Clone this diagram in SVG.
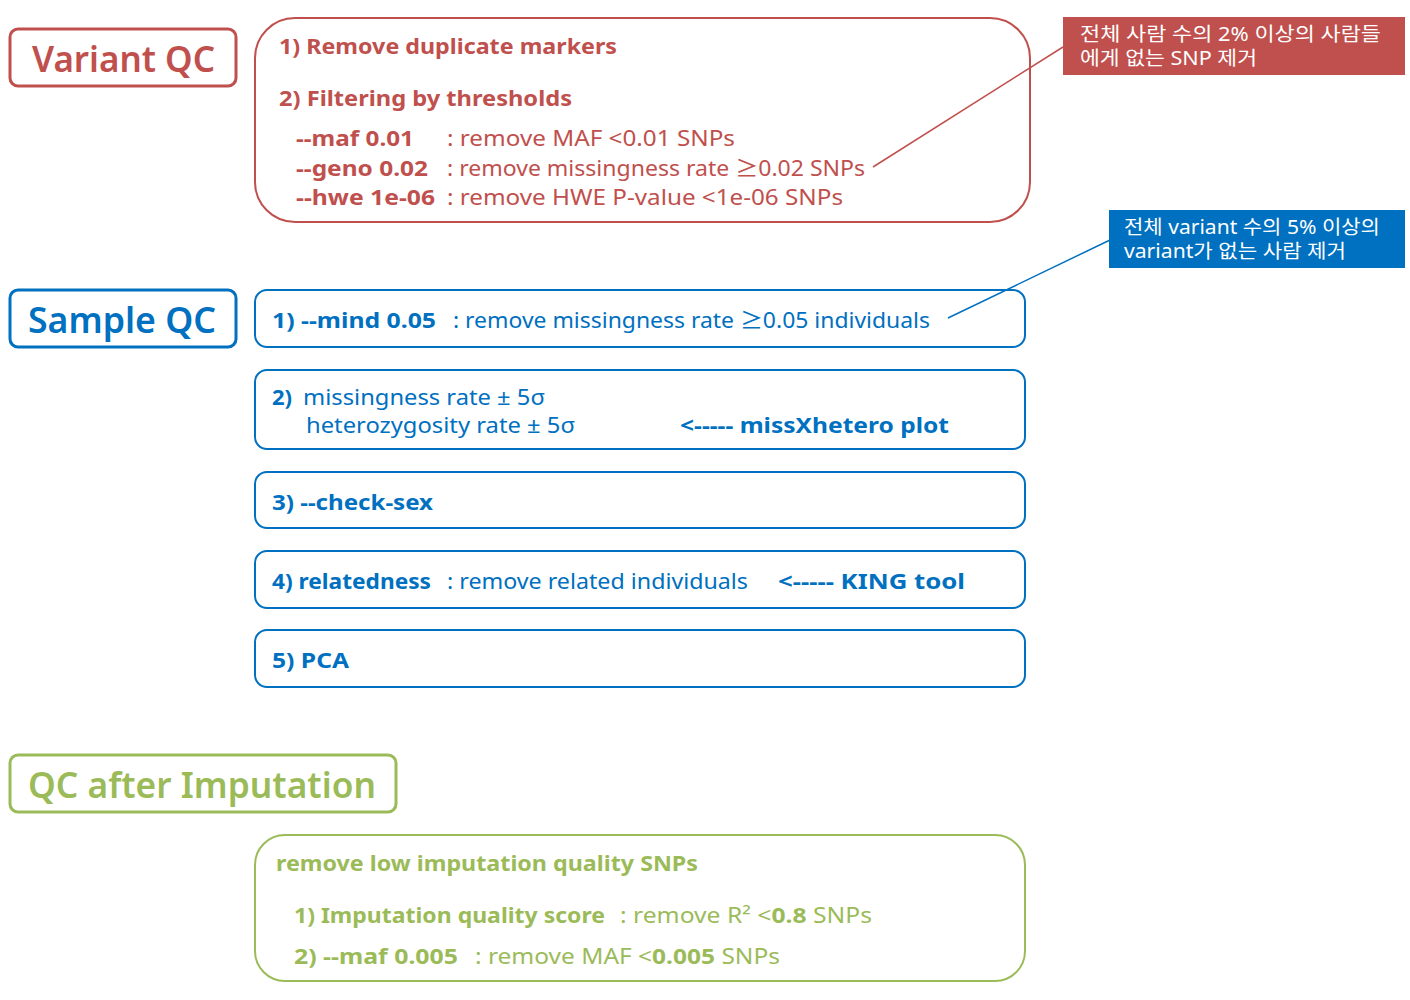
<svg xmlns="http://www.w3.org/2000/svg" width="1410" height="1000" viewBox="0 0 1410 1000">
<style>
text{font-family:"Noto Sans","Noto Sans CJK KR","Liberation Sans",sans-serif;}
.k{font-family:"Noto Sans CJK KR","Noto Sans",sans-serif;}
.red{fill:#C0504D}.blue{fill:#0070C0}.green{fill:#9BBB59}.w{fill:#FFFFFF}
.b{font-weight:700}.n{font-weight:400}
.t{font-size:36px;font-weight:600}
.m{font-size:22px}
.c{font-size:19px}
.rb{fill:none;stroke:#C0504D}.bb{fill:none;stroke:#0070C0}.gb{fill:none;stroke:#9BBB59}
</style>
<rect width="1410" height="1000" fill="#FFFFFF"/>

<g id="variant-qc-title">
<rect class="rb" x="10" y="29" width="226" height="57" rx="8" stroke-width="3"/>
<text class="t red" x="32" y="72" textLength="183" lengthAdjust="spacingAndGlyphs">Variant QC</text>
</g>

<g id="variant-qc-box">
<rect class="rb" x="255" y="18" width="775" height="204" rx="40" stroke-width="2"/>
<text class="m red b" x="279" y="54" textLength="338" lengthAdjust="spacingAndGlyphs">1)  Remove duplicate markers</text>
<text class="m red b" x="279" y="106" textLength="293" lengthAdjust="spacingAndGlyphs">2)  Filtering by thresholds</text>
<text class="m red b" x="296" y="146" textLength="118" lengthAdjust="spacingAndGlyphs">--maf 0.01</text>
<text class="m red n" x="447" y="146" textLength="288" lengthAdjust="spacingAndGlyphs">: remove MAF &lt;0.01  SNPs</text>
<text class="m red b" x="296" y="176" textLength="132" lengthAdjust="spacingAndGlyphs">--geno 0.02</text>
<text class="m red n" x="447" y="176" textLength="418" lengthAdjust="spacingAndGlyphs">: remove missingness  rate  <tspan class="k">≥</tspan>0.02 SNPs</text>
<text class="m red b" x="296" y="205" textLength="139" lengthAdjust="spacingAndGlyphs">--hwe 1e-06</text>
<text class="m red n" x="447" y="205" textLength="396" lengthAdjust="spacingAndGlyphs">: remove HWE  P-value &lt;1e-06 SNPs</text>
</g>

<g id="variant-callout">
<rect x="1063" y="17" width="342" height="58" fill="#C0504D"/>
<text class="c w" x="1080" y="41" textLength="301" lengthAdjust="spacingAndGlyphs">전체 사람 수의 2% 이상의 사람들</text>
<text class="c w" x="1080" y="65" textLength="177" lengthAdjust="spacingAndGlyphs">에게 없는 SNP 제거</text>
</g>

<g id="sample-qc-title">
<rect class="bb" x="10" y="290" width="226" height="57" rx="8" stroke-width="3"/>
<text class="t blue" x="28" y="333" textLength="188" lengthAdjust="spacingAndGlyphs">Sample QC</text>
</g>

<g id="sample-callout">
<rect x="1109" y="210" width="296" height="58" fill="#0070C0"/>
<text class="c w" x="1124" y="234" textLength="256" lengthAdjust="spacingAndGlyphs">전체 variant 수의 5% 이상의</text>
<text class="c w" x="1124" y="258" textLength="222" lengthAdjust="spacingAndGlyphs">variant가 없는 사람 제거</text>
</g>

<g id="sample-step-1">
<rect class="bb" x="255" y="290" width="770" height="57" rx="12" stroke-width="2"/>
<text class="m blue b" x="272" y="328" textLength="164" lengthAdjust="spacingAndGlyphs">1) --mind 0.05</text>
<text class="m blue n" x="453" y="328" textLength="477" lengthAdjust="spacingAndGlyphs">: remove missingness  rate  <tspan class="k">≥</tspan>0.05 individuals</text>
</g>

<g id="sample-step-2">
<rect class="bb" x="255" y="370" width="770" height="79" rx="12" stroke-width="2"/>
<text class="m blue b" x="272" y="405">2)</text>
<text class="m blue n" x="303" y="405" textLength="242" lengthAdjust="spacingAndGlyphs">missingness  rate  ±  5σ</text>
<text class="m blue n" x="306" y="433" textLength="269" lengthAdjust="spacingAndGlyphs">heterozygosity  rate  ±  5σ</text>
<text class="m blue b" x="680" y="433" textLength="269" lengthAdjust="spacingAndGlyphs">&lt;-----  missXhetero plot</text>
</g>

<g id="sample-step-3">
<rect class="bb" x="255" y="472" width="770" height="56" rx="12" stroke-width="2"/>
<text class="m blue b" x="272" y="510" textLength="161" lengthAdjust="spacingAndGlyphs">3) --check-sex</text>
</g>

<g id="sample-step-4">
<rect class="bb" x="255" y="551" width="770" height="57" rx="12" stroke-width="2"/>
<text class="m blue b" x="272" y="589" textLength="159" lengthAdjust="spacingAndGlyphs">4) relatedness</text>
<text class="m blue n" x="447" y="589" textLength="301" lengthAdjust="spacingAndGlyphs">: remove related individuals</text>
<text class="m blue b" x="778" y="589" textLength="187" lengthAdjust="spacingAndGlyphs">&lt;-----  KING  tool</text>
</g>

<g id="sample-step-5">
<rect class="bb" x="255" y="630" width="770" height="57" rx="12" stroke-width="2"/>
<text class="m blue b" x="272" y="668" textLength="77" lengthAdjust="spacingAndGlyphs">5) PCA</text>
</g>

<g id="imputation-qc-title">
<rect class="gb" x="10" y="755" width="386" height="57" rx="8" stroke-width="3"/>
<text class="t green" x="28" y="798" textLength="348" lengthAdjust="spacingAndGlyphs">QC after Imputation</text>
</g>

<g id="imputation-qc-box">
<rect class="gb" x="255" y="835" width="770" height="146" rx="30" stroke-width="2"/>
<text class="m green b" x="276" y="871" textLength="422" lengthAdjust="spacingAndGlyphs">remove  low imputation quality SNPs</text>
<text class="m green b" x="294" y="923" textLength="311" lengthAdjust="spacingAndGlyphs">1) Imputation quality score</text>
<text class="m green n" x="620" y="923" textLength="252" lengthAdjust="spacingAndGlyphs">: remove R² &lt;<tspan class="b">0.8</tspan> SNPs</text>
<text class="m green b" x="294" y="964" textLength="164" lengthAdjust="spacingAndGlyphs">2) --maf 0.005</text>
<text class="m green n" x="475" y="964" textLength="305" lengthAdjust="spacingAndGlyphs">: remove MAF &lt;<tspan class="b">0.005</tspan> SNPs</text>
</g>

<g id="connectors">
<line x1="873" y1="167" x2="1063" y2="47" stroke="#C0504D" stroke-width="1.5"/>
<line x1="948" y1="318" x2="1110" y2="240" stroke="#0070C0" stroke-width="1.5"/>
</g>
</svg>
